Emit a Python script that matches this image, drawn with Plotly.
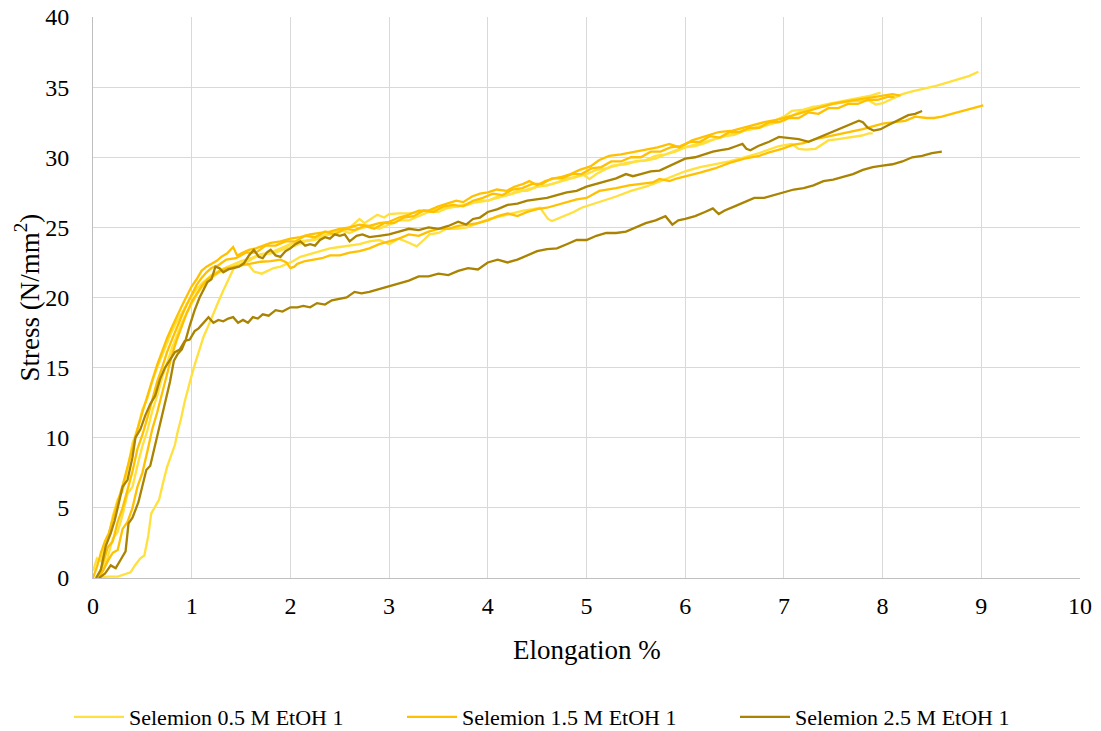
import plotly.graph_objects as go

# Tensile test curves, points are (elongation %, stress N/mm²)
selemion_05_1 = [
    (0.00, 0.5), (0.04, 1.4), (0.08, 1.2), (0.12, 2.2), (0.16, 3.0), (0.20, 4.4), (0.25, 5.6), (0.30, 6.2),
    (0.35, 7.8), (0.40, 9.6), (0.45, 10.6), (0.50, 12.0), (0.55, 12.8), (0.60, 14.0), (0.65, 15.0), (0.70, 15.9),
    (0.75, 16.8), (0.80, 17.6), (0.85, 18.3), (0.90, 18.9), (0.95, 19.6), (1.00, 20.1), (1.05, 20.6), (1.10, 21.0),
    (1.15, 21.3), (1.20, 21.6), (1.30, 22.0), (1.40, 22.3), (1.50, 22.6), (1.60, 22.8), (1.70, 23.1), (1.80, 23.2),
    (1.90, 23.5), (2.00, 23.8), (2.10, 24.0), (2.20, 24.1), (2.30, 24.4), (2.40, 24.5), (2.50, 24.8), (2.60, 24.6),
    (2.70, 24.9), (2.80, 25.1), (2.90, 24.9), (3.00, 25.2), (3.10, 25.5), (3.20, 25.5), (3.30, 25.8), (3.40, 26.1),
    (3.50, 26.1), (3.60, 26.4), (3.70, 26.5), (3.80, 26.6), (3.90, 26.9), (4.00, 26.9), (4.10, 27.2), (4.20, 27.3),
    (4.30, 27.6), (4.40, 27.6), (4.50, 27.9), (4.60, 28.0), (4.70, 28.2), (4.80, 28.5), (4.90, 28.6), (5.00, 28.8),
    (5.10, 29.1), (5.20, 29.2), (5.30, 29.4), (5.40, 29.6), (5.50, 29.7), (5.60, 29.8), (5.70, 30.1), (5.80, 30.2),
    (5.90, 30.4), (6.00, 30.7), (6.10, 30.8), (6.20, 31.0), (6.30, 31.3), (6.40, 31.5), (6.50, 31.6), (6.60, 31.9),
    (6.70, 32.1), (6.80, 32.3), (6.90, 32.6), (7.00, 32.9), (7.08, 33.3), (7.20, 33.4), (7.30, 33.6), (7.40, 33.6),
    (7.50, 33.8), (7.60, 33.9), (7.70, 34.0), (7.80, 34.0), (7.86, 34.05), (7.93, 33.76), (8.00, 33.85), (8.06, 34.05),
    (8.13, 34.3), (8.20, 34.5), (8.30, 34.7), (8.43, 34.9), (8.55, 35.1), (8.67, 35.35), (8.80, 35.6), (8.88, 35.8),
    (8.97, 36.1),
]

selemion_05_2 = [
    (0.05, 0.0), (0.10, 0.5), (0.15, 1.5), (0.20, 2.8), (0.25, 3.3), (0.30, 4.5), (0.35, 6.0), (0.40, 6.5),
    (0.45, 8.0), (0.50, 9.4), (0.55, 10.5), (0.60, 11.9), (0.65, 13.0), (0.70, 14.3), (0.75, 15.3), (0.80, 16.4),
    (0.85, 17.3), (0.90, 18.2), (0.95, 18.9), (1.00, 19.6), (1.05, 20.2), (1.10, 20.7), (1.15, 21.1), (1.20, 21.4),
    (1.28, 21.8), (1.36, 22.0), (1.45, 22.3), (1.55, 22.5), (1.65, 22.9), (1.75, 23.1), (1.85, 23.2), (1.95, 23.5),
    (2.05, 23.7), (2.15, 24.0), (2.25, 24.1), (2.35, 24.4), (2.45, 24.6), (2.55, 24.8), (2.62, 25.1), (2.70, 25.6),
    (2.75, 25.3), (2.82, 25.6), (2.88, 25.9), (2.95, 25.7), (3.00, 25.95), (3.10, 26.0), (3.20, 26.0), (3.30, 26.1),
    (3.40, 26.2), (3.50, 26.3), (3.60, 26.5), (3.70, 26.5), (3.80, 26.7), (3.90, 26.8), (4.00, 26.9), (4.10, 27.1),
    (4.20, 27.3), (4.30, 27.5), (4.40, 27.7), (4.50, 27.9), (4.60, 28.0), (4.70, 28.2), (4.80, 28.4), (4.90, 28.6),
    (4.96, 28.8), (5.03, 28.45), (5.10, 28.8), (5.20, 29.2), (5.26, 29.4), (5.40, 29.5), (5.50, 29.7), (5.60, 29.76),
    (5.70, 29.9), (5.80, 30.2), (5.94, 30.6), (6.10, 30.9), (6.20, 31.1), (6.34, 31.4), (6.50, 31.7), (6.60, 31.9),
    (6.75, 32.1), (6.88, 32.4), (7.00, 32.6), (7.12, 33.1), (7.22, 33.4), (7.32, 33.6), (7.45, 33.8), (7.62, 34.05),
    (7.75, 34.2), (7.88, 34.4), (7.98, 34.6),
]

selemion_05_3 = [
    (0.05, 0.0), (0.15, 0.1), (0.25, 0.1), (0.33, 0.3), (0.38, 0.4), (0.43, 0.95), (0.48, 1.4), (0.52, 1.6),
    (0.56, 3.0), (0.59, 4.6), (0.63, 5.1), (0.67, 5.6), (0.71, 6.8), (0.75, 7.9), (0.79, 8.7), (0.83, 9.5),
    (0.86, 10.5), (0.89, 11.3), (0.93, 12.6), (0.96, 13.5), (0.99, 14.2), (1.03, 15.2), (1.07, 16.1), (1.12, 17.2),
    (1.17, 18.0), (1.22, 18.9), (1.27, 19.7), (1.32, 20.5), (1.37, 21.3), (1.42, 22.0), (1.47, 22.3), (1.52, 22.5),
    (1.58, 22.3), (1.63, 21.85), (1.71, 21.7), (1.78, 21.9), (1.83, 22.1), (1.90, 22.2), (1.97, 22.4), (2.03, 22.6),
    (2.10, 22.9), (2.20, 23.1), (2.30, 23.3), (2.40, 23.5), (2.50, 23.6), (2.60, 23.7), (2.70, 23.8), (2.80, 24.0),
    (2.90, 24.1), (3.00, 23.8), (3.10, 24.2), (3.20, 23.9), (3.28, 23.65), (3.35, 24.1), (3.41, 24.5), (3.50, 24.6),
    (3.58, 24.9), (3.68, 24.9), (3.79, 25.0), (3.90, 25.3), (4.02, 25.6), (4.14, 25.8), (4.26, 26.0), (4.36, 26.2),
    (4.46, 26.3), (4.53, 26.4), (4.57, 26.0), (4.61, 25.6), (4.65, 25.45), (4.70, 25.6), (4.74, 25.7), (4.80, 25.9),
    (4.87, 26.1), (4.95, 26.4), (5.04, 26.6), (5.15, 26.9), (5.30, 27.2), (5.45, 27.6), (5.60, 27.9), (5.75, 28.3),
    (5.90, 28.7), (6.00, 29.0), (6.15, 29.3), (6.30, 29.5), (6.45, 29.7), (6.60, 30.0), (6.75, 30.3), (6.95, 30.8),
    (7.08, 30.95), (7.15, 30.6), (7.22, 30.55), (7.32, 30.6), (7.45, 31.2), (7.55, 31.3), (7.66, 31.4), (7.79, 31.55),
    (7.86, 31.7), (7.90, 31.7),
]

selemion_15_1 = [
    (0.00, 0.0), (0.04, 0.8), (0.08, 1.8), (0.12, 2.6), (0.16, 3.2), (0.20, 4.1), (0.25, 5.4), (0.30, 6.6),
    (0.35, 8.0), (0.40, 9.3), (0.45, 10.6), (0.50, 11.8), (0.55, 13.0), (0.60, 14.1), (0.65, 15.2), (0.70, 16.2),
    (0.75, 17.1), (0.80, 17.9), (0.85, 18.7), (0.90, 19.4), (0.95, 20.1), (1.00, 20.8), (1.05, 21.3), (1.10, 21.9),
    (1.15, 22.2), (1.20, 22.4), (1.25, 22.6), (1.30, 22.9), (1.36, 23.15), (1.42, 23.6), (1.46, 23.0), (1.52, 23.2),
    (1.58, 23.4), (1.65, 23.5), (1.72, 23.7), (1.80, 23.9), (1.90, 24.0), (2.00, 24.2), (2.10, 24.3), (2.20, 24.5),
    (2.30, 24.6), (2.40, 24.7), (2.50, 24.9), (2.60, 25.0), (2.70, 25.2), (2.80, 25.1), (2.90, 25.3), (3.00, 25.4),
    (3.10, 25.7), (3.20, 25.9), (3.30, 26.2), (3.40, 26.2), (3.50, 26.5), (3.58, 26.7), (3.68, 26.9), (3.75, 26.8),
    (3.84, 27.2), (3.92, 27.4), (4.00, 27.5), (4.09, 27.7), (4.19, 27.6), (4.27, 27.9), (4.36, 28.1), (4.42, 28.3),
    (4.50, 28.0), (4.58, 28.3), (4.67, 28.5), (4.75, 28.6), (4.84, 28.8), (4.93, 29.1), (5.04, 29.35), (5.13, 29.8),
    (5.23, 30.1), (5.35, 30.2), (5.47, 30.35), (5.60, 30.5), (5.72, 30.7), (5.84, 30.95), (5.94, 30.7), (6.07, 31.2),
    (6.20, 31.5), (6.34, 31.8), (6.48, 31.9), (6.58, 32.1), (6.68, 32.3), (6.80, 32.5), (6.95, 32.7), (7.05, 32.9),
    (7.15, 33.1), (7.30, 33.4), (7.49, 33.8), (7.65, 34.0), (7.82, 34.2), (7.92, 34.3), (8.00, 34.4), (8.10, 34.5),
    (8.18, 34.4),
]

selemion_15_2 = [
    (0.05, 0.0), (0.10, 1.0), (0.15, 2.2), (0.20, 2.6), (0.25, 4.0), (0.30, 5.0), (0.35, 6.3), (0.40, 7.6),
    (0.45, 9.2), (0.50, 10.2), (0.55, 11.4), (0.60, 12.8), (0.65, 14.0), (0.70, 15.0), (0.75, 16.1), (0.80, 17.0),
    (0.85, 17.9), (0.90, 18.7), (0.95, 19.5), (1.00, 20.2), (1.05, 20.9), (1.10, 21.4), (1.15, 21.8), (1.20, 22.1),
    (1.27, 22.3), (1.35, 22.7), (1.45, 22.8), (1.55, 23.2), (1.65, 23.2), (1.75, 23.7), (1.85, 23.7), (1.95, 24.0),
    (2.05, 24.0), (2.15, 24.4), (2.25, 24.3), (2.35, 24.7), (2.45, 24.5), (2.55, 24.9), (2.65, 24.8), (2.75, 25.1),
    (2.85, 24.9), (2.95, 25.3), (3.05, 25.3), (3.15, 25.7), (3.25, 25.8), (3.35, 26.2), (3.45, 26.1), (3.55, 26.5),
    (3.65, 26.6), (3.75, 26.5), (3.85, 26.9), (3.95, 27.1), (4.05, 27.4), (4.15, 27.3), (4.25, 27.7), (4.35, 27.8),
    (4.45, 28.1), (4.55, 28.1), (4.65, 28.5), (4.75, 28.5), (4.85, 28.8), (4.95, 28.8), (5.05, 29.2), (5.15, 29.3),
    (5.25, 29.7), (5.35, 29.7), (5.45, 30.0), (5.55, 30.0), (5.65, 30.4), (5.75, 30.4), (5.85, 30.7), (5.95, 30.8),
    (6.05, 31.1), (6.15, 31.1), (6.25, 31.5), (6.35, 31.4), (6.45, 31.8), (6.55, 31.8), (6.65, 32.1), (6.75, 32.1),
    (6.85, 32.5), (6.95, 32.5), (7.05, 32.8), (7.15, 32.8), (7.25, 33.2), (7.35, 33.1), (7.45, 33.5), (7.55, 33.5),
    (7.65, 33.8), (7.75, 33.8), (7.85, 34.1), (7.95, 34.1), (8.05, 34.3), (8.12, 34.3),
]

selemion_15_3 = [
    (0.04, 0.0), (0.10, 0.5), (0.15, 1.2), (0.20, 1.8), (0.25, 2.0), (0.30, 3.5), (0.35, 4.0), (0.40, 5.0),
    (0.45, 6.5), (0.50, 7.5), (0.55, 9.0), (0.60, 10.6), (0.65, 11.8), (0.70, 13.2), (0.75, 14.6), (0.80, 15.9),
    (0.85, 17.0), (0.90, 18.0), (0.95, 18.9), (1.00, 19.7), (1.05, 20.3), (1.10, 20.8), (1.16, 21.3), (1.22, 21.6),
    (1.29, 21.9), (1.36, 22.1), (1.43, 22.2), (1.49, 22.3), (1.58, 22.4), (1.70, 22.55), (1.80, 22.6), (1.90, 22.7),
    (1.96, 22.5), (2.00, 22.1), (2.04, 22.2), (2.07, 22.4), (2.15, 22.6), (2.24, 22.7), (2.32, 22.8), (2.40, 23.0),
    (2.50, 23.0), (2.60, 23.2), (2.70, 23.3), (2.80, 23.5), (2.90, 23.8), (3.00, 24.0), (3.10, 24.2), (3.20, 24.5),
    (3.30, 24.4), (3.40, 24.7), (3.50, 24.9), (3.60, 24.9), (3.70, 25.1), (3.80, 25.2), (3.90, 25.3), (4.00, 25.5),
    (4.10, 25.8), (4.20, 26.0), (4.30, 25.8), (4.40, 26.1), (4.50, 26.3), (4.60, 26.4), (4.70, 26.6), (4.80, 26.8),
    (4.90, 27.0), (5.00, 27.1), (5.13, 27.6), (5.30, 27.8), (5.43, 28.0), (5.55, 28.1), (5.67, 28.2), (5.74, 28.45),
    (5.84, 28.3), (5.92, 28.5), (6.04, 28.7), (6.15, 28.9), (6.30, 29.2), (6.45, 29.6), (6.60, 29.9), (6.75, 30.1),
    (6.85, 30.35), (6.98, 30.6), (7.10, 30.9), (7.20, 31.0), (7.32, 31.3), (7.45, 31.5), (7.55, 31.6), (7.66, 31.8),
    (7.80, 32.0), (7.90, 32.2), (8.00, 32.4), (8.12, 32.5), (8.23, 32.6), (8.33, 32.9), (8.45, 32.8), (8.52, 32.8),
    (8.60, 32.9), (8.70, 33.1), (8.80, 33.3), (8.90, 33.45), (9.02, 33.7),
]

selemion_25_1 = [
    (0.06, 0.0), (0.12, 0.3), (0.18, 0.9), (0.23, 0.7), (0.28, 1.3), (0.33, 1.9), (0.36, 3.9), (0.40, 4.3),
    (0.46, 5.4), (0.50, 6.5), (0.54, 7.7), (0.58, 8.0), (0.62, 9.2), (0.66, 10.2), (0.70, 11.6), (0.74, 12.6),
    (0.78, 14.0), (0.82, 15.5), (0.86, 16.0), (0.90, 16.3), (0.94, 17.0), (0.98, 18.0), (1.03, 19.1), (1.08, 20.0),
    (1.12, 20.6), (1.16, 21.1), (1.20, 21.3), (1.24, 22.2), (1.28, 22.1), (1.32, 21.8), (1.37, 22.0), (1.43, 22.1),
    (1.48, 22.2), (1.53, 22.45), (1.58, 23.0), (1.63, 23.4), (1.68, 22.9), (1.72, 22.8), (1.76, 23.2), (1.80, 23.4),
    (1.85, 23.0), (1.90, 22.9), (1.95, 23.3), (2.00, 23.5), (2.05, 23.8), (2.10, 24.0), (2.15, 23.7), (2.20, 23.8),
    (2.25, 23.7), (2.30, 24.1), (2.35, 24.3), (2.40, 24.2), (2.45, 24.5), (2.50, 24.4), (2.55, 24.5), (2.60, 24.0),
    (2.67, 24.4), (2.73, 24.5), (2.80, 24.3), (2.90, 24.4), (3.00, 24.5), (3.10, 24.7), (3.20, 24.9), (3.30, 24.8),
    (3.40, 25.0), (3.50, 24.9), (3.60, 25.1), (3.70, 25.4), (3.78, 25.2), (3.85, 25.6), (3.92, 25.7), (4.00, 26.1),
    (4.10, 26.3), (4.20, 26.6), (4.30, 26.7), (4.40, 26.9), (4.50, 27.0), (4.60, 27.1), (4.70, 27.3), (4.80, 27.5),
    (4.90, 27.6), (5.00, 27.9), (5.10, 28.1), (5.20, 28.3), (5.30, 28.5), (5.40, 28.8), (5.47, 28.65), (5.55, 28.8),
    (5.65, 29.0), (5.74, 29.05), (5.85, 29.4), (6.00, 29.9), (6.10, 30.0), (6.20, 30.2), (6.28, 30.4), (6.36, 30.5),
    (6.44, 30.6), (6.52, 30.8), (6.58, 30.95), (6.62, 30.6), (6.66, 30.5), (6.74, 30.8), (6.85, 31.1), (6.95, 31.45),
    (7.05, 31.4), (7.15, 31.3), (7.25, 31.1), (7.35, 31.4), (7.49, 31.8), (7.60, 32.1), (7.70, 32.4), (7.76, 32.6),
    (7.80, 32.5), (7.85, 32.1), (7.91, 31.9), (7.98, 32.0), (8.06, 32.3), (8.15, 32.6), (8.26, 33.0), (8.33, 33.1),
    (8.40, 33.3),
]

selemion_25_2 = [
    (0.03, 0.0), (0.08, 0.6), (0.13, 2.3), (0.18, 3.2), (0.22, 4.1), (0.27, 5.6), (0.30, 6.5), (0.35, 7.0),
    (0.40, 8.6), (0.43, 10.0), (0.48, 10.6), (0.53, 11.6), (0.58, 12.4), (0.63, 13.0), (0.68, 14.2), (0.73, 15.0),
    (0.78, 15.6), (0.83, 16.1), (0.88, 16.3), (0.93, 16.9), (0.98, 17.0), (1.03, 17.6), (1.07, 17.8), (1.12, 18.2),
    (1.17, 18.6), (1.22, 18.2), (1.27, 18.4), (1.32, 18.3), (1.37, 18.5), (1.42, 18.6), (1.47, 18.2), (1.52, 18.4),
    (1.57, 18.2), (1.62, 18.6), (1.67, 18.5), (1.72, 18.8), (1.78, 18.7), (1.85, 19.1), (1.92, 19.0), (2.00, 19.3),
    (2.07, 19.3), (2.13, 19.4), (2.20, 19.3), (2.27, 19.6), (2.35, 19.5), (2.42, 19.8), (2.50, 19.9), (2.57, 20.0),
    (2.65, 20.4), (2.72, 20.3), (2.80, 20.4), (2.90, 20.6), (3.00, 20.8), (3.10, 21.0), (3.20, 21.2), (3.30, 21.5),
    (3.40, 21.5), (3.50, 21.7), (3.60, 21.6), (3.70, 21.9), (3.80, 22.1), (3.90, 22.0), (4.00, 22.5), (4.10, 22.7),
    (4.20, 22.5), (4.30, 22.7), (4.40, 23.0), (4.50, 23.3), (4.60, 23.45), (4.70, 23.5), (4.80, 23.8), (4.90, 24.1),
    (5.00, 24.1), (5.10, 24.4), (5.20, 24.6), (5.30, 24.6), (5.40, 24.7), (5.50, 25.0), (5.60, 25.3), (5.70, 25.5),
    (5.80, 25.8), (5.87, 25.2), (5.93, 25.5), (6.00, 25.6), (6.10, 25.8), (6.20, 26.1), (6.28, 26.35), (6.34, 25.95),
    (6.40, 26.2), (6.50, 26.5), (6.60, 26.8), (6.70, 27.1), (6.80, 27.1), (6.90, 27.3), (7.00, 27.5), (7.10, 27.7),
    (7.20, 27.8), (7.30, 28.0), (7.40, 28.3), (7.50, 28.4), (7.60, 28.6), (7.70, 28.8), (7.80, 29.1), (7.90, 29.3),
    (8.00, 29.4), (8.10, 29.5), (8.20, 29.7), (8.30, 30.0), (8.40, 30.1), (8.50, 30.3), (8.60, 30.4),
]

series_names = [
    "Selemion 0.5 M EtOH 1", "Selemion 0.5 M EtOH 2", "Selemion 0.5 M EtOH 3",
    "Selemion 1.5 M EtOH 1", "Selemion 1.5 M EtOH 2", "Selemion 1.5 M EtOH 3",
    "Selemion 2.5 M EtOH 1", "Selemion 2.5 M EtOH 2",
]
series_data = [
    selemion_05_1, selemion_05_2, selemion_05_3,
    selemion_15_1, selemion_15_2, selemion_15_3,
    selemion_25_1, selemion_25_2,
]
concentration_colors = {"0.5": "#FFE03C", "1.5": "#FFC000", "2.5": "#AA8300"}

FONT = "Liberation Serif"
PLOT_L, PLOT_T, PLOT_W, PLOT_H = 93, 17, 987, 561

fig = go.Figure()
for name, pts in zip(series_names, series_data):
    conc = name.split()[1]
    fig.add_trace(go.Scatter(
        x=[p[0] for p in pts],
        y=[p[1] for p in pts],
        mode="lines",
        name=name,
        legendgroup=conc,
        showlegend=name.endswith(" 1"),
        line=dict(color=concentration_colors[conc], width=2.3),
    ))

axis_style = dict(
    showgrid=True, gridcolor="#D9D9D9", gridwidth=1,
    showline=True, linecolor="#BFBFBF", linewidth=1,
    zeroline=False, ticks="",
    tickfont=dict(family=FONT, size=24, color="#000000"),
)
fig.update_xaxes(range=[0, 10], dtick=1, ticklabelstandoff=6, **axis_style)
fig.update_yaxes(range=[0, 40], dtick=5, ticklabelstandoff=18, **axis_style)

fig.update_layout(
    width=1101, height=731,
    margin=dict(l=PLOT_L, r=1101 - PLOT_L - PLOT_W, t=PLOT_T, b=731 - PLOT_T - PLOT_H,
                autoexpand=False),
    paper_bgcolor="white", plot_bgcolor="white",
    font=dict(family=FONT, size=22, color="#000000"),
    legend=dict(
        orientation="h",
        x=(69 - PLOT_L) / PLOT_W, xanchor="left",
        y=(PLOT_T + PLOT_H - 717) / PLOT_H, yanchor="middle",
        font=dict(family=FONT, size=22), itemwidth=50,
        entrywidth=268, entrywidthmode="pixels",
    ),
    annotations=[
        dict(text="Elongation %", xref="paper", yref="paper", x=0.5, y=-0.128,
             xanchor="center", yanchor="middle", showarrow=False,
             font=dict(family=FONT, size=27)),
        dict(text="Stress (N/mm<sup>2</sup>)", xref="paper", yref="paper",
             x=(27 - PLOT_L) / PLOT_W, y=0.5, xanchor="center", yanchor="middle", textangle=-90,
             showarrow=False, font=dict(family=FONT, size=27)),
    ],
)

fig.write_html("out.html")
